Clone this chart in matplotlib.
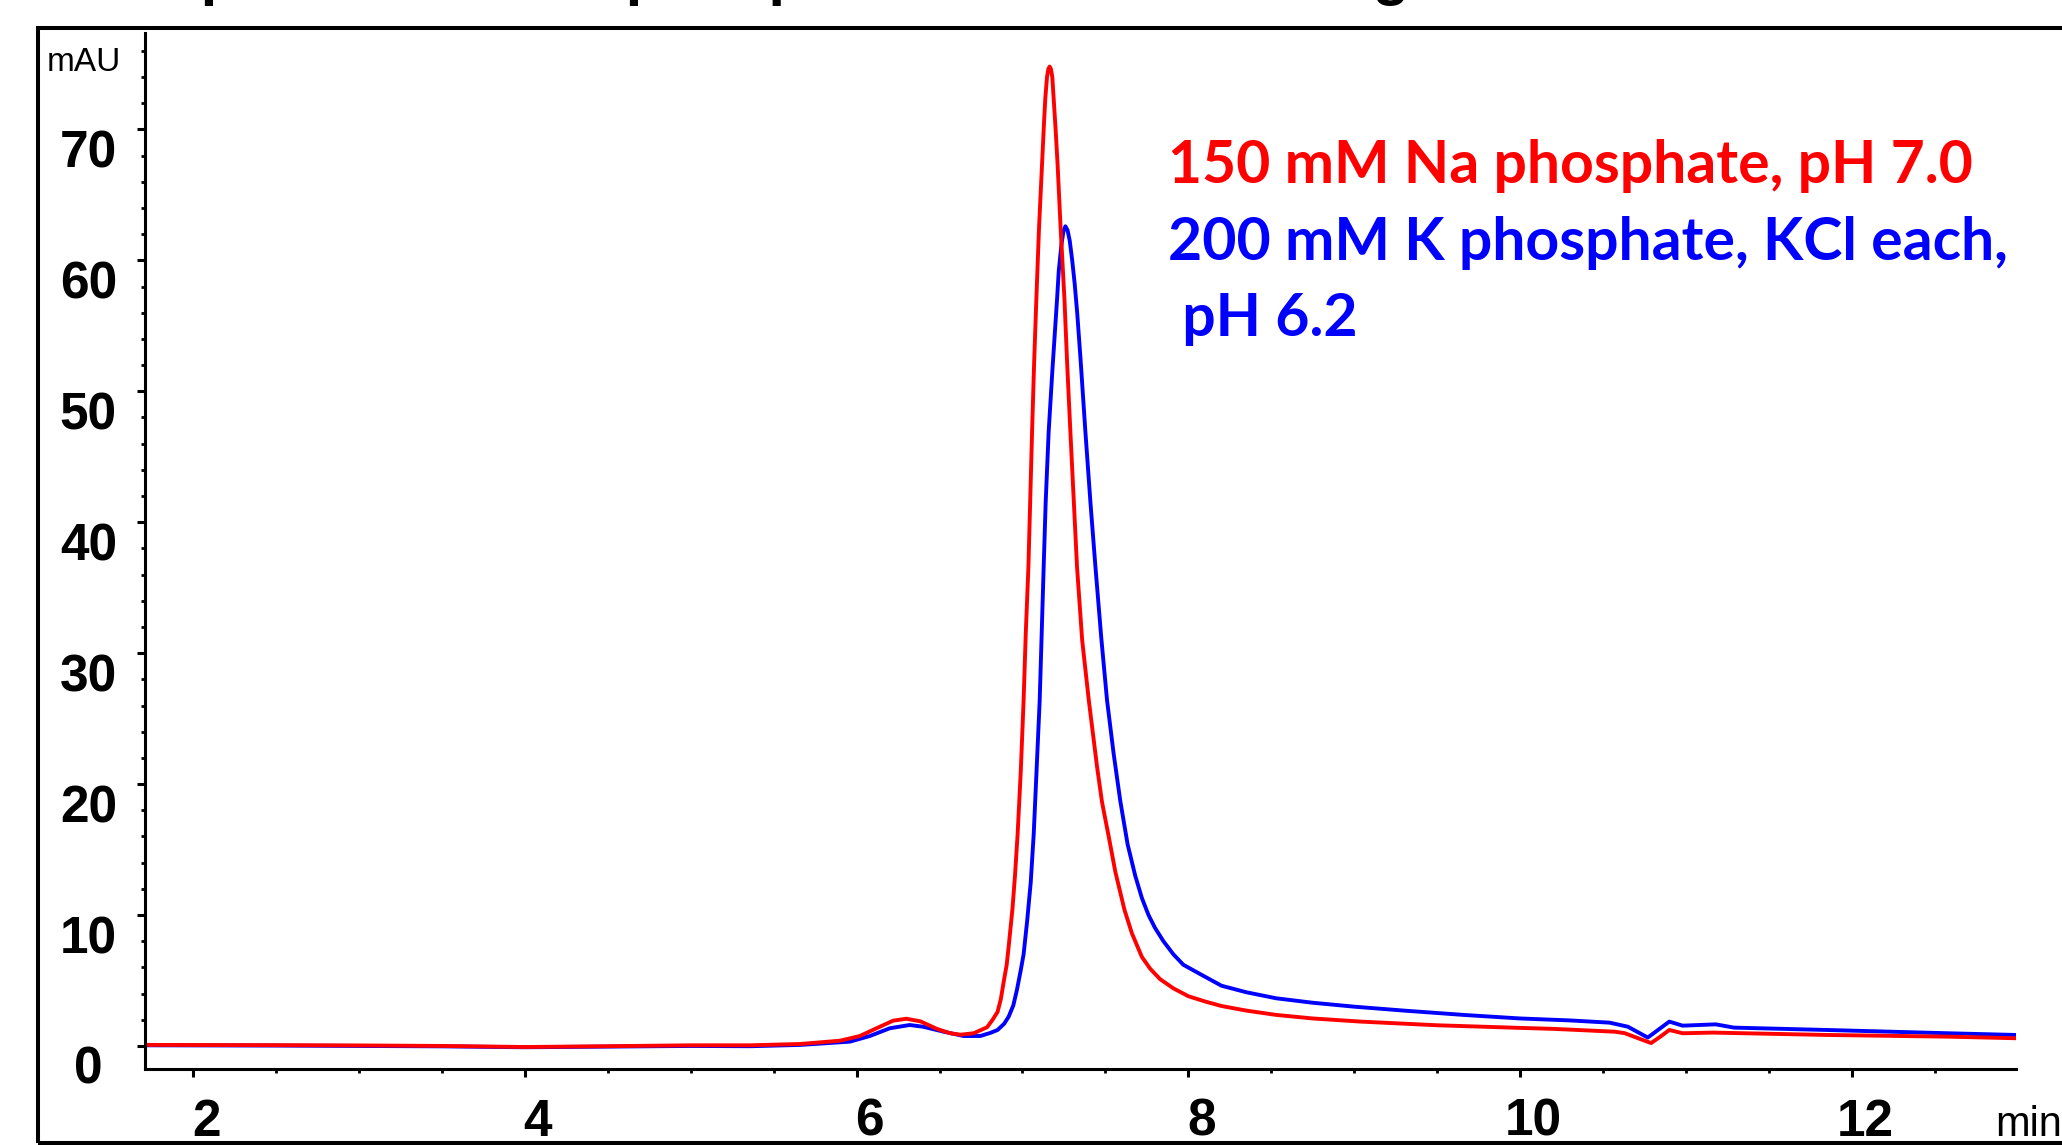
import matplotlib
matplotlib.use("Agg")
import matplotlib.pyplot as plt
import matplotlib.transforms as mtransforms
from matplotlib.ticker import MultipleLocator
from matplotlib.patches import Rectangle

# ---------------- data ----------------
time_red = [1.71, 2.5, 3.0, 3.5, 4.0, 4.5, 5.0, 5.36, 5.66, 5.90, 6.02, 6.12,
            6.22, 6.30, 6.385, 6.485, 6.565, 6.626, 6.706, 6.787, 6.82, 6.85,
            6.87, 6.887, 6.905, 6.917, 6.94, 6.955, 6.971, 6.99, 7.007, 7.02,
            7.036, 7.058, 7.07, 7.084, 7.10, 7.118, 7.13, 7.138, 7.148, 7.156,
            7.164, 7.172, 7.180, 7.188, 7.20, 7.212, 7.23, 7.253, 7.27, 7.289,
            7.31, 7.329, 7.36, 7.40, 7.45, 7.48, 7.52, 7.56, 7.615, 7.66,
            7.72, 7.77, 7.83, 7.91, 8.0, 8.1, 8.20, 8.35, 8.53, 8.75, 9.04,
            9.5, 10.0, 10.21, 10.57, 10.63, 10.72, 10.79, 10.85, 10.90, 10.98,
            11.16, 11.85, 12.58, 12.985]
abs_red = [0.08, 0.06, 0.04, 0.0, -0.08, -0.02, 0.05, 0.05, 0.15, 0.40, 0.76, 1.35,
           1.93, 2.08, 1.88, 1.30, 0.97, 0.86, 0.97, 1.43, 2.0, 2.6,
           3.6, 4.9, 6.2, 7.6, 10.5, 13.0, 16.2, 21.0, 26.4, 31.5,
           36.6, 46.9, 52.0, 57.1, 62.5, 67.3, 70.5, 72.4, 74.0, 74.6,
           74.8, 74.6, 74.0, 72.4, 70.0, 67.3, 62.5, 57.1, 52.0, 46.9,
           41.5, 36.6, 31.0, 26.4, 21.3, 18.6, 16.0, 13.3, 10.4, 8.6,
           6.8, 5.9, 5.1, 4.4, 3.8, 3.4, 3.05, 2.7, 2.37, 2.1, 1.86,
           1.58, 1.38, 1.30, 1.09, 0.98, 0.55, 0.22, 0.75, 1.22, 0.97,
           1.02, 0.84, 0.71, 0.59]

time_blue = [1.71, 2.5, 3.0, 3.5, 4.0, 4.5, 5.0, 5.36, 5.66, 5.96, 6.08, 6.20,
             6.32, 6.40, 6.525, 6.645, 6.746, 6.807, 6.85, 6.89, 6.917, 6.945,
             6.967, 6.99, 7.007, 7.028, 7.05, 7.068, 7.085, 7.104, 7.128, 7.14,
             7.158, 7.18, 7.209, 7.219, 7.235, 7.247, 7.259, 7.272, 7.285, 7.30,
             7.315, 7.33, 7.35, 7.379, 7.41, 7.44, 7.475, 7.51, 7.55, 7.59, 7.634,
             7.68, 7.72, 7.76, 7.80, 7.85, 7.91, 7.97, 8.07, 8.20, 8.35, 8.53,
             8.75, 9.0, 9.3, 9.66, 10.0, 10.3, 10.54, 10.65, 10.77, 10.84,
             10.90, 10.98, 11.18, 11.29, 11.85, 12.58, 12.985]
abs_blue = [0.05, 0.03, 0.0, -0.03, -0.1, -0.05, 0.0, -0.02, 0.08, 0.33, 0.76, 1.35,
            1.60, 1.47, 1.09, 0.76, 0.76, 1.0, 1.22, 1.7, 2.24, 3.1,
            4.3, 5.8, 7.0, 9.5, 12.5, 16.2, 21.0, 26.4, 36.6, 41.5,
            46.9, 51.5, 57.1, 59.2, 61.2, 62.2, 62.6, 62.3, 61.5, 60.0,
            58.2, 56.0, 52.5, 47.0, 41.5, 36.6, 31.2, 26.4, 22.3, 18.7, 15.4,
            13.0, 11.3, 10.0, 9.0, 8.0, 7.0, 6.2, 5.5, 4.6, 4.1, 3.64,
            3.3, 3.0, 2.7, 2.37, 2.1, 1.95, 1.78, 1.47, 0.64, 1.3,
            1.86, 1.55, 1.65, 1.40, 1.22, 0.97, 0.84]

x_ticks = [2, 4, 6, 8, 10, 12]
y_ticks = [0, 10, 20, 30, 40, 50, 60, 70]

label_red = "150 mM Na phosphate, pH 7.0"
label_blue_1 = "200 mM K phosphate, KCl each,"
label_blue_2 = " pH 6.2"
y_unit = "mAU"
x_unit = "min"
title = "Comparison of two phosphate buffers on TSKgel"

RED = "#FF0000"
BLUE = "#0000FF"

W, H = 2062, 1145
fig = plt.figure(figsize=(W / 100, H / 100), dpi=100)

ax_left, ax_right = 145 / W, 2016 / W
ax_bottom, ax_top = 1 - 1069 / H, 1 - 32.5 / H
ax = fig.add_axes([ax_left, ax_bottom, ax_right - ax_left, ax_top - ax_bottom])

ax.plot(time_blue, abs_blue, color=BLUE, lw=2.8, solid_joinstyle="round")
ax.plot(time_red, abs_red, color=RED, lw=2.8, solid_joinstyle="round")

ax.set_xlim(1.71, 12.99)
ax.set_ylim(-1.76, 77.4)

for side in ("top", "right"):
    ax.spines[side].set_visible(False)
for side in ("left", "bottom"):
    ax.spines[side].set_linewidth(2.2)
    ax.spines[side].set_color("black")

ax.set_xticks(x_ticks)
ax.set_xticklabels([str(v) for v in x_ticks])
ax.set_yticks(y_ticks)
ax.set_yticklabels([str(v) for v in y_ticks])
ax.xaxis.set_minor_locator(MultipleLocator(0.5))
ax.yaxis.set_minor_locator(MultipleLocator(2))

ax.tick_params(which="major", length=5.8, width=2.2, direction="out", color="black")
ax.tick_params(which="minor", length=3.0, width=2.0, direction="out", color="black")
ax.tick_params(axis="x", which="major", pad=15)
ax.tick_params(axis="y", which="major", pad=35)

for lbl in ax.get_xticklabels() + ax.get_yticklabels():
    lbl.set_fontfamily("Liberation Sans")
    lbl.set_fontweight("bold")
    lbl.set_fontsize(37)

xoff = mtransforms.ScaledTranslation(0.13, 0, fig.dpi_scale_trans)
for lbl in ax.get_xticklabels():
    lbl.set_transform(lbl.get_transform() + xoff)
for lbl in ax.get_yticklabels():
    lbl.set_horizontalalignment("center")
    lbl.set_verticalalignment("top")

# unit labels
fig.text(47 / W, 1 - 71 / H, y_unit, fontsize=24, family="Liberation Sans",
         va="baseline", ha="left")
fig.text(1995 / W, 1 - 1136 / H, x_unit, fontsize=30, family="Liberation Sans",
         va="baseline", ha="left")

# legend-like annotations
fig.text(1168 / W, 1 - 183 / H, label_red, color=RED, family="Lato",
         fontweight="bold", fontsize=42.4, va="baseline", ha="left")
fig.text(1168 / W, 1 - 260 / H, label_blue_1, color=BLUE, family="Lato",
         fontweight="bold", fontsize=42.4, va="baseline", ha="left")
fig.text(1168 / W, 1 - 336 / H, label_blue_2, color=BLUE, family="Lato",
         fontweight="bold", fontsize=42.4, va="baseline", ha="left")

# title cut off at the top edge (only descenders visible, as in the reference)
fig.text(68 / W, 1 + 6.5 / H, title, family="Liberation Sans", fontweight="bold",
         fontsize=43, va="baseline", ha="left")

# outer frame
frame = Rectangle((38 / W, 2 / H), 1.2, (1143 - 28) / H, transform=fig.transFigure,
                  fill=False, edgecolor="black", linewidth=2.9, clip_on=False)
fig.add_artist(frame)

fig.savefig("out.png", dpi=100)
